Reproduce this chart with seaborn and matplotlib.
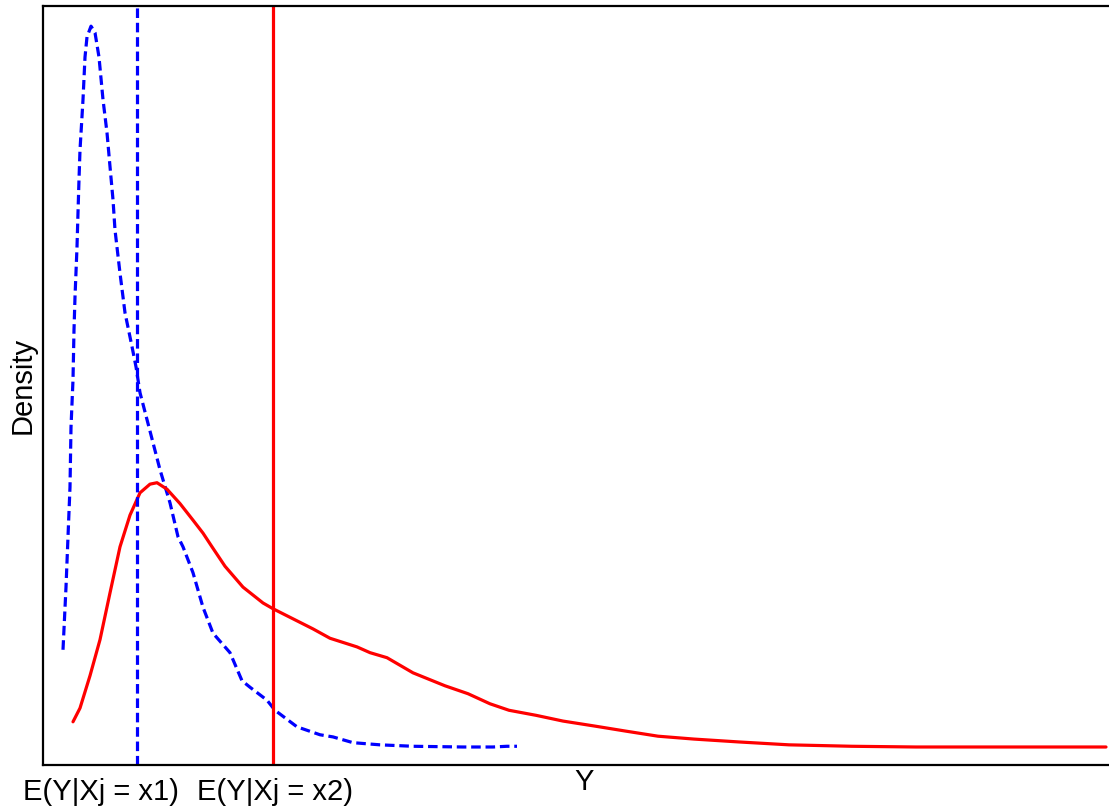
import matplotlib
matplotlib.use("Agg")
import matplotlib.pyplot as plt
import seaborn as sns
import pandas as pd

# ---- data (arbitrary units) ----
blue_x = [0.20, 0.23, 0.25, 0.27, 0.28, 0.30, 0.31, 0.32, 0.34, 0.35, 0.36, 0.37,
          0.40, 0.42, 0.44, 0.48, 0.52, 0.56, 0.60, 0.64, 0.67, 0.70, 0.72, 0.77, 0.82,
          0.89, 0.93, 0.97, 1.06, 1.17, 1.27, 1.35, 1.40, 1.50, 1.60, 1.70, 1.87, 1.99,
          2.07, 2.24, 2.32, 2.54, 2.77, 2.90, 3.10, 3.37, 3.70, 4.20, 4.50, 4.64, 4.74]
blue_d = [0.135, 0.222, 0.292, 0.361, 0.444, 0.510, 0.579, 0.625, 0.694, 0.742, 0.788,
          0.829, 0.899, 0.958, 0.986, 1.001, 0.992, 0.958, 0.899, 0.853, 0.806, 0.760,
          0.718, 0.658, 0.603, 0.556, 0.528, 0.492, 0.444, 0.385, 0.339, 0.292, 0.278,
          0.242, 0.194, 0.158, 0.131, 0.092, 0.083, 0.065, 0.051, 0.028, 0.017, 0.014,
          0.006, 0.003, 0.001, 0.0, 0.0, 0.001, 0.001]

red_x = [0.30, 0.37, 0.47, 0.57, 0.67, 0.77, 0.87, 0.97, 1.07, 1.14, 1.24, 1.37, 1.50,
         1.60, 1.69, 1.82, 2.00, 2.20, 2.30, 2.50, 2.70, 2.87, 3.14, 3.27, 3.44, 3.70,
         4.02, 4.25, 4.47, 4.66, 4.93, 5.20, 5.52, 5.83, 6.15, 6.51, 6.96, 7.46, 8.09,
         8.73, 9.45, 10.63]
red_d = [0.035, 0.054, 0.099, 0.149, 0.214, 0.278, 0.322, 0.353, 0.365, 0.367, 0.358,
         0.338, 0.315, 0.297, 0.278, 0.251, 0.222, 0.200, 0.192, 0.178, 0.164, 0.151,
         0.139, 0.131, 0.124, 0.103, 0.085, 0.074, 0.060, 0.051, 0.044, 0.036, 0.029,
         0.022, 0.015, 0.011, 0.007, 0.003, 0.001, 0.0, 0.0, 0.0]

mean_x1 = 0.94      # E(Y|Xj = x1)
mean_x2 = 2.30      # E(Y|Xj = x2)
tick_pos = [0.58, 2.32]
tick_labels = ["E(Y|Xj = x1)", "E(Y|Xj = x2)"]

blue_df = pd.DataFrame({"Y": blue_x, "Density": blue_d})
red_df = pd.DataFrame({"Y": red_x, "Density": red_d})

sns.set_theme(style="white")
plt.rcParams["font.family"] = ["Liberation Sans", "DejaVu Sans"]
plt.rcParams["text.color"] = "black"
plt.rcParams["axes.labelcolor"] = "black"
plt.rcParams["xtick.color"] = "black"

fig = plt.figure(figsize=(11.09, 8.07), dpi=100)
ax = fig.add_axes([43 / 1109, (807 - 765) / 807, 1066 / 1109, 759 / 807])

sns.lineplot(data=blue_df, x="Y", y="Density", sort=False, ax=ax, color="#0000ff",
             lw=2.3, estimator=None)
ax.lines[-1].set_dashes((3.0, 1.5))
sns.lineplot(data=red_df, x="Y", y="Density", sort=False, ax=ax, color="#ff0000",
             lw=2.3, estimator=None)

ax.axvline(mean_x1, color="#0000ff", lw=2.3, dashes=(3.0, 1.5))
ax.axvline(mean_x2, color="#ff0000", lw=2.3)

ax.set_xlim(0, 10.66)
ax.set_ylim(-0.025, 1.029)

ax.set_xticks(tick_pos)
ax.set_xticklabels(tick_labels, fontsize=21, color="black")
ax.set_yticks([])
ax.tick_params(axis="x", length=0, pad=9)

ax.set_xlabel("Y", fontsize=21, color="black")
ax.set_ylabel("Density", fontsize=21, color="black")
ax.xaxis.set_label_coords(0.508, -0.004)
ax.yaxis.set_label_coords(-0.006, 0.5)

for side in ["left", "top", "bottom"]:
    ax.spines[side].set_color("black")
    ax.spines[side].set_linewidth(1.6)
    ax.spines[side].set_visible(True)
ax.spines["right"].set_visible(False)

fig.savefig("out.png", dpi=100)
